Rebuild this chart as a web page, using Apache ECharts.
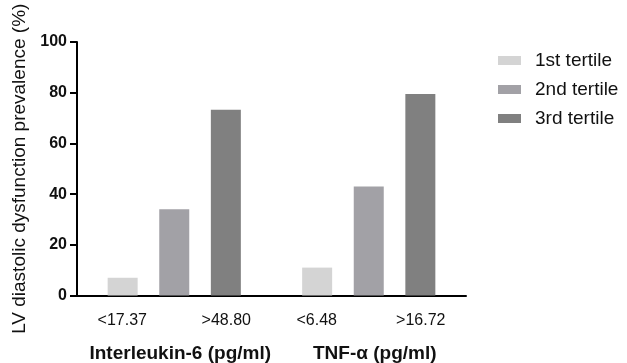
<!DOCTYPE html>
<html>
<head>
<meta charset="utf-8">
<script src="https://cdn.jsdelivr.net/npm/echarts@6/dist/echarts.min.js"></script>
<style>html,body{margin:0;padding:0;background:#fff}#c{width:627px;height:363px}</style>
</head>
<body>
<div id="c"></div>
<script>
const groups = ['Interleukin-6 (pg/ml)', 'TNF-α (pg/ml)'];
const lowLabels = ['<17.37', '<6.48'];
const highLabels = ['>48.80', '>16.72'];
const seriesNames = ['1st tertile', '2nd tertile', '3rd tertile'];
const tertile1 = [7, 11];
const tertile2 = [34, 43];
const tertile3 = [73.3, 79.5];
const yTicks = [0, 20, 40, 60, 80, 100];
const colors = ['#d4d4d4', '#a2a1a6', '#808080'];

const chart = echarts.init(document.getElementById('c'));
const font = '"Liberation Sans", Arial, Helvetica, sans-serif';
const values = [tertile1, tertile2, tertile3];
chart.setOption({
  animation: false,
  textStyle: { fontFamily: font },
  grid: { left: 77, top: 42, width: 389, bottom: 66, containLabel: false },
  legend: {
    orient: 'vertical', left: 493, top: 46, itemWidth: 23, itemHeight: 9, itemGap: 10,
    icon: 'rect',
    textStyle: { fontSize: 19, color: '#111', fontFamily: font, lineHeight: 19, padding: [0, 0, 0, 9] },
    data: seriesNames
  },
  xAxis: {
    type: 'category', data: groups,
    axisLine: { lineStyle: { color: '#000', width: 2 } },
    axisTick: { alignWithLabel: true, length: 7, lineStyle: { color: '#000', width: 2 } },
    axisLabel: {
      margin: 15, interval: 0,
      formatter: function (v, i) {
        return '{a|' + lowLabels[i] + '}{g|}{b|' + highLabels[i] + '}\n{t|' + v + '}';
      },
      rich: {
        a: { width: 64, align: 'center', fontSize: 16, color: '#111', lineHeight: 21, fontFamily: font },
        g: { width: 40 },
        b: { width: 64, align: 'center', fontSize: 16, color: '#111', lineHeight: 21, fontFamily: font },
        t: { fontSize: 19, fontWeight: 'bold', color: '#111', lineHeight: 44, padding: [0, 0, 0, 12], fontFamily: font }
      }
    }
  },
  yAxis: {
    type: 'value', min: 0, max: 100, interval: 20,
    name: 'LV diastolic dysfunction prevalence (%)',
    nameLocation: 'middle', nameGap: 44, nameRotate: 90,
    nameTextStyle: { fontSize: 19, color: '#111', fontFamily: font },
    splitLine: { show: false },
    axisLine: { show: true, lineStyle: { color: '#000', width: 2 } },
    axisTick: { show: true, length: 7, lineStyle: { color: '#000', width: 2 } },
    axisLabel: {
      fontSize: 16, fontWeight: 'bold', color: '#111', margin: 10, fontFamily: font,
      formatter: function (v) { return yTicks.indexOf(v) >= 0 ? String(v) : ''; }
    }
  },
  series: seriesNames.map((n, k) => ({
    name: n, type: 'bar', data: values[k], barWidth: 30, barGap: '72%',
    itemStyle: { color: colors[k] }
  }))
});
</script>
</body>
</html>
